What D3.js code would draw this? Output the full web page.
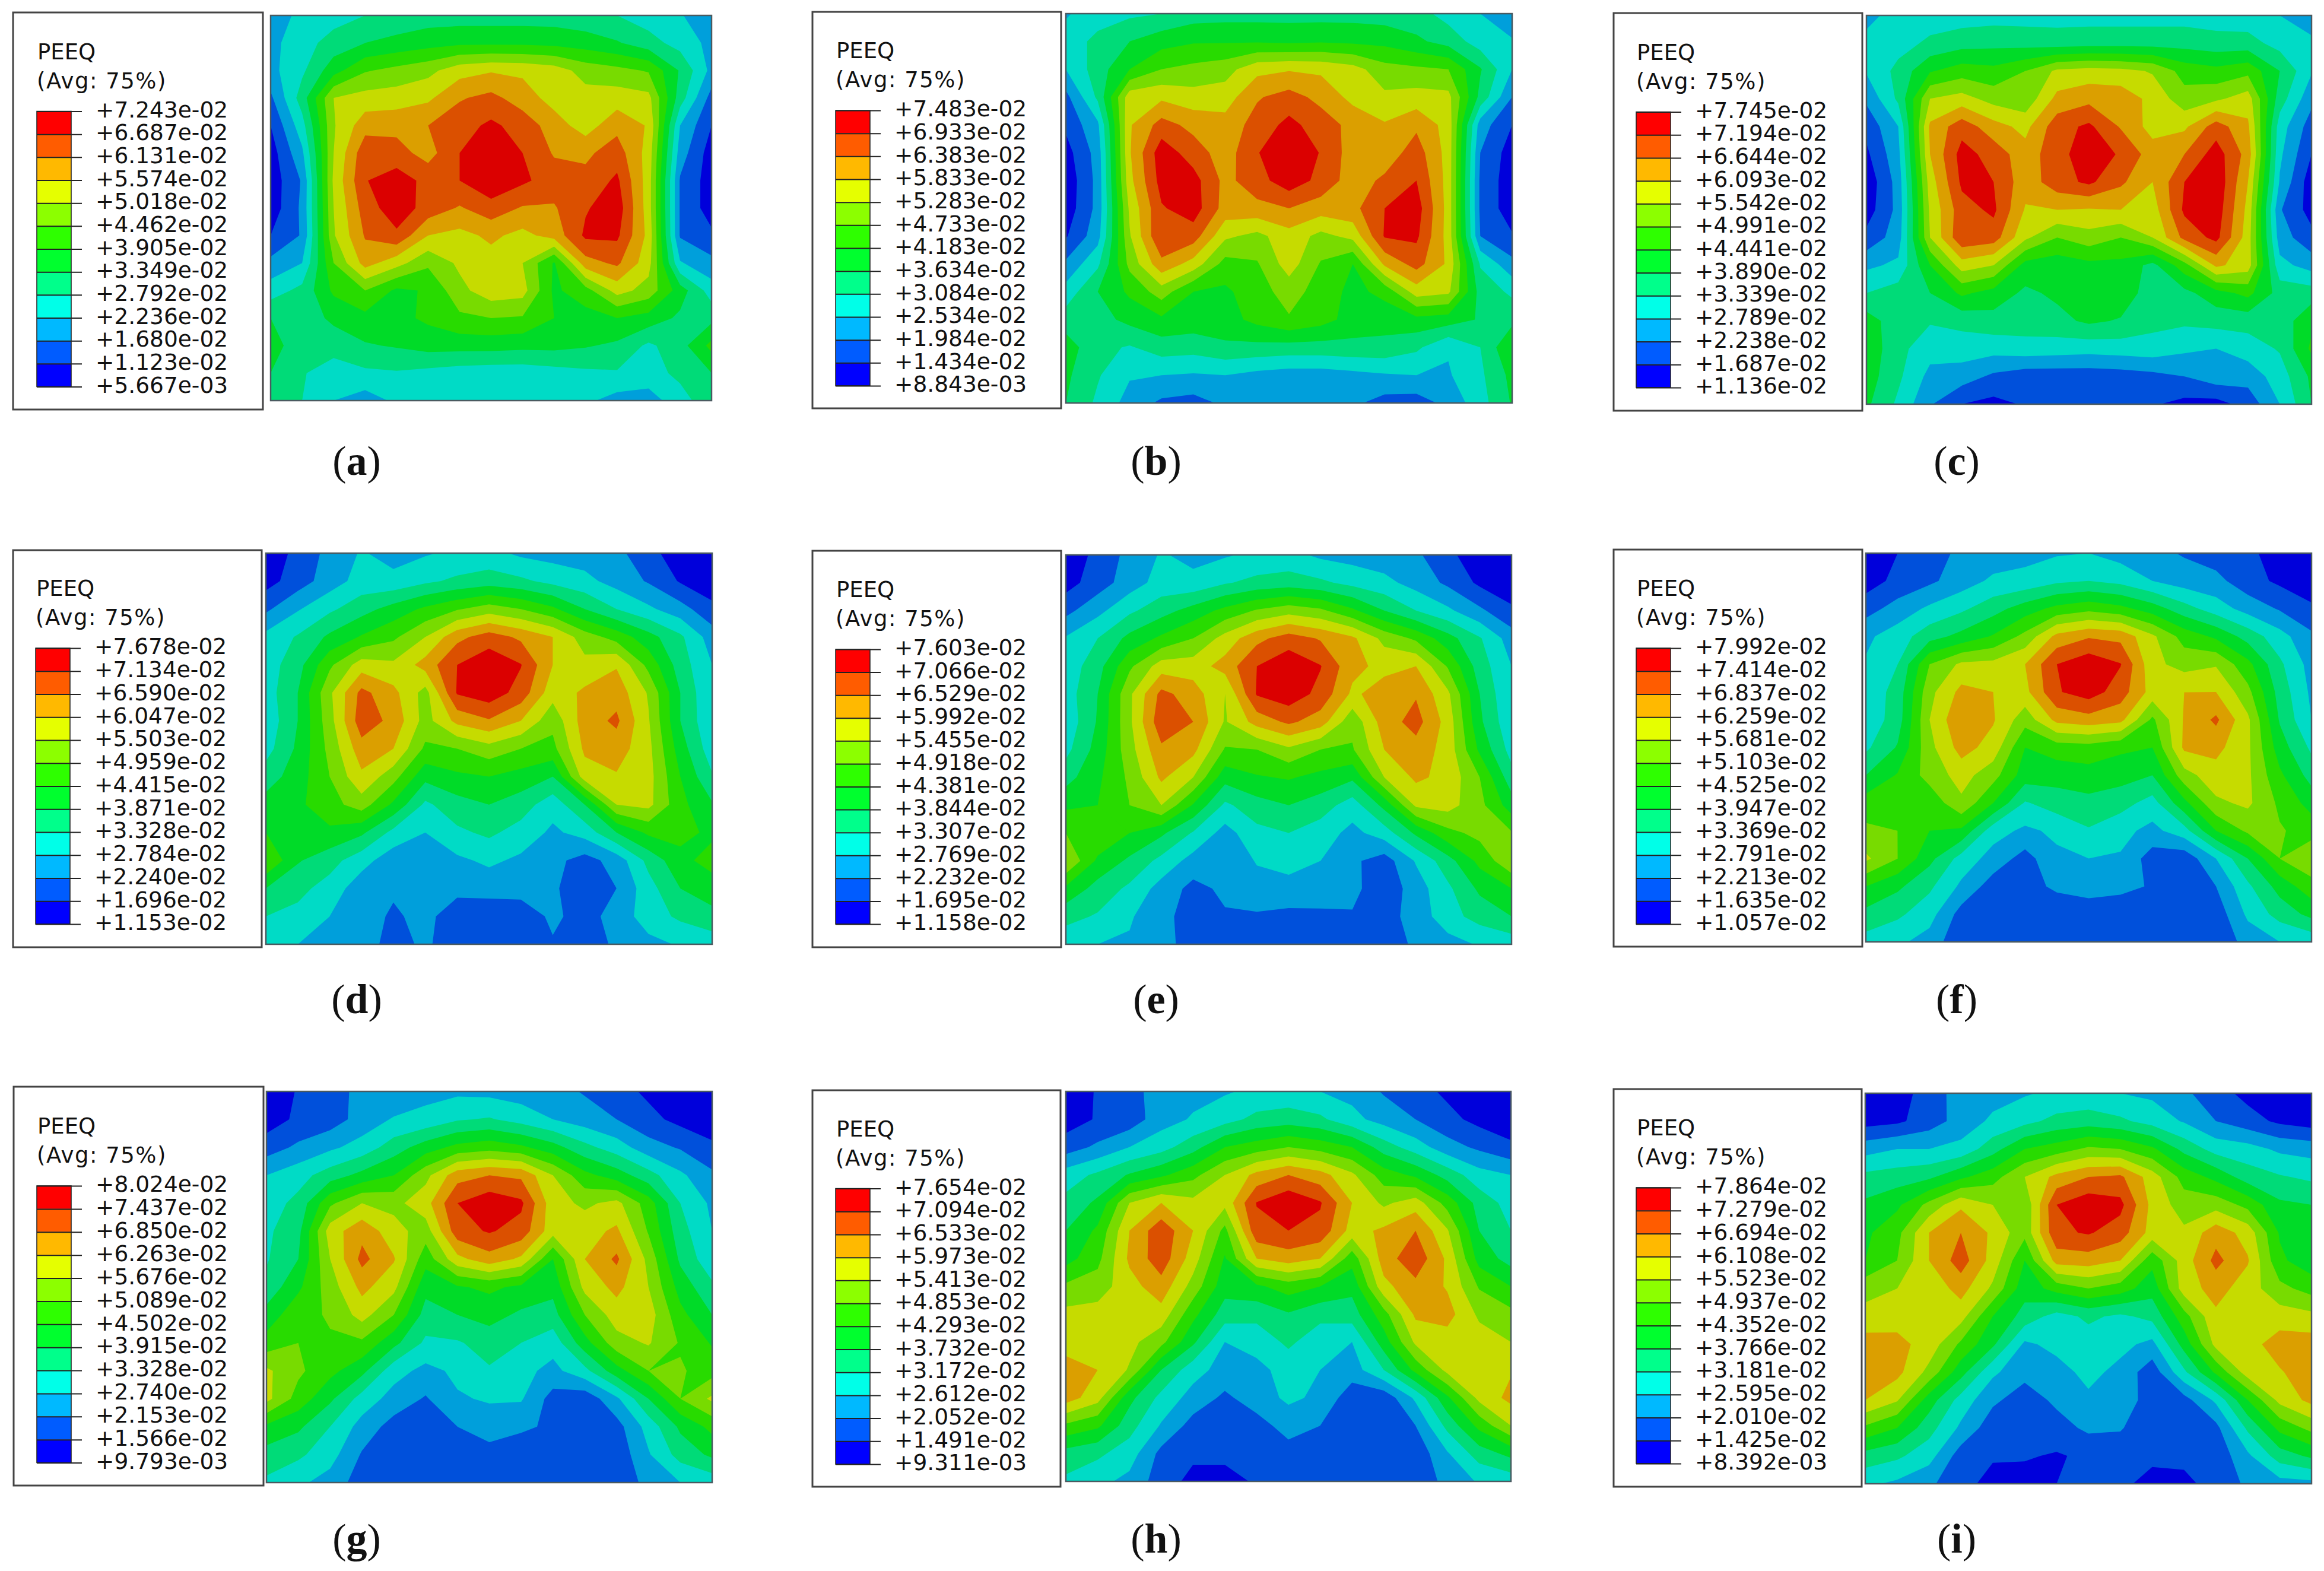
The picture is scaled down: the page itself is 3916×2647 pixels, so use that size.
<!DOCTYPE html>
<html>
<head>
<meta charset="utf-8">
<script src="https://d3js.org/d3.v7.min.js"></script>
<style>
body { margin: 0; background: #fff; }
</style>
</head>
<body>
<div id="chart"></div>
<script>
// legend tick labels of every panel, top to bottom
const ticksA = ["+7.243e-02","+6.687e-02","+6.131e-02","+5.574e-02","+5.018e-02","+4.462e-02","+3.905e-02","+3.349e-02","+2.792e-02","+2.236e-02","+1.680e-02","+1.123e-02","+5.667e-03"];
const ticksB = ["+7.483e-02","+6.933e-02","+6.383e-02","+5.833e-02","+5.283e-02","+4.733e-02","+4.183e-02","+3.634e-02","+3.084e-02","+2.534e-02","+1.984e-02","+1.434e-02","+8.843e-03"];
const ticksC = ["+7.745e-02","+7.194e-02","+6.644e-02","+6.093e-02","+5.542e-02","+4.991e-02","+4.441e-02","+3.890e-02","+3.339e-02","+2.789e-02","+2.238e-02","+1.687e-02","+1.136e-02"];
const ticksD = ["+7.678e-02","+7.134e-02","+6.590e-02","+6.047e-02","+5.503e-02","+4.959e-02","+4.415e-02","+3.871e-02","+3.328e-02","+2.784e-02","+2.240e-02","+1.696e-02","+1.153e-02"];
const ticksE = ["+7.603e-02","+7.066e-02","+6.529e-02","+5.992e-02","+5.455e-02","+4.918e-02","+4.381e-02","+3.844e-02","+3.307e-02","+2.769e-02","+2.232e-02","+1.695e-02","+1.158e-02"];
const ticksF = ["+7.992e-02","+7.414e-02","+6.837e-02","+6.259e-02","+5.681e-02","+5.103e-02","+4.525e-02","+3.947e-02","+3.369e-02","+2.791e-02","+2.213e-02","+1.635e-02","+1.057e-02"];
const ticksG = ["+8.024e-02","+7.437e-02","+6.850e-02","+6.263e-02","+5.676e-02","+5.089e-02","+4.502e-02","+3.915e-02","+3.328e-02","+2.740e-02","+2.153e-02","+1.566e-02","+9.793e-03"];
const ticksH = ["+7.654e-02","+7.094e-02","+6.533e-02","+5.973e-02","+5.413e-02","+4.853e-02","+4.293e-02","+3.732e-02","+3.172e-02","+2.612e-02","+2.052e-02","+1.491e-02","+9.311e-03"];
const ticksI = ["+7.864e-02","+7.279e-02","+6.694e-02","+6.108e-02","+5.523e-02","+4.937e-02","+4.352e-02","+3.766e-02","+3.181e-02","+2.595e-02","+2.010e-02","+1.425e-02","+8.392e-03"];

// field values, in legend steps (0 = bottom tick, 12 = top tick)
const gridA = [
[2.2,3.4,3.6,4.0,4.3,4.5,4.5,4.5,4.5,4.5,4.3,4.0,3.5,3.1,2.2],
[2.7,3.6,4.4,5.0,5.3,5.6,5.8,5.8,5.8,5.7,5.5,5.1,4.4,3.6,2.7],
[2.7,3.8,5.6,6.9,7.3,7.7,8.6,8.9,8.8,8.5,7.6,7.3,6.9,4.9,2.7],
[1.8,4.5,8.0,8.4,8.5,8.8,9.9,10.3,9.5,8.6,8.4,8.5,8.3,4.5,1.6],
[1.0,3.6,7.9,9.6,9.7,10.0,10.6,11.2,10.6,9.5,8.5,9.7,8.9,3.0,1.0],
[0.5,2.8,8.0,10.7,10.4,9.6,11.0,11.8,11.0,9.9,9.8,10.5,8.6,2.5,0.5],
[0.4,2.1,8.2,10.95,11.5,10.7,11.0,11.8,11.2,10.5,10.3,11.2,8.5,1.9,0.5],
[0.4,2.2,8.0,10.5,11.6,10.6,9.9,10.6,9.9,9.9,10.9,11.6,8.5,1.9,0.5],
[1.0,2.1,7.9,10.1,10.8,9.0,8.7,9.2,8.7,9.4,11.2,11.2,8.7,1.9,1.2],
[2.3,3.0,7.0,9.4,8.4,7.2,8.2,8.6,8.0,5.9,9.6,10.2,8.4,3.1,2.3],
[3.5,4.3,6.2,7.0,5.8,6.1,7.7,8.6,8.4,5.8,6.6,8.4,7.6,5.5,3.5],
[5.0,4.5,5.2,5.7,5.7,6.2,6.8,7.0,6.9,6.0,5.6,6.0,5.6,4.8,4.7],
[5.5,4.3,4.5,4.9,5.1,5.4,5.4,5.4,5.3,5.3,5.1,4.8,3.8,4.6,6.3],
[5.0,4.1,3.4,3.8,3.9,3.7,3.5,3.4,3.4,3.6,3.8,3.9,3.5,4.3,5.0],
[4.8,4.0,3.0,2.5,3.2,3.4,3.4,3.4,3.4,3.4,3.2,2.6,2.6,3.5,4.8]];
const gridB = [
[2.9,3.5,3.8,4.0,4.5,4.6,4.6,4.6,4.6,4.6,4.5,4.4,3.6,3.0,2.3],
[3.4,4.3,5.0,5.6,5.9,5.9,5.9,5.8,5.9,5.8,5.7,5.2,4.6,3.5,3.1],
[3.0,4.5,6.0,7.0,7.3,7.6,8.7,8.9,8.8,8.4,7.4,7.2,7.0,5.1,3.0],
[1.7,4.2,8.6,8.8,8.4,8.5,9.9,10.4,9.7,8.7,8.2,8.4,8.3,4.7,2.0],
[1.2,2.8,8.9,10.4,9.7,9.4,10.4,11.3,10.5,9.7,9.1,9.8,8.6,2.5,1.0],
[0.6,2.4,8.9,11.6,10.5,9.5,10.95,11.7,10.95,9.5,9.4,10.5,8.6,2.0,0.5],
[0.3,2.3,8.7,11.4,11.4,9.7,10.6,11.6,10.7,9.5,10.2,11.0,8.6,1.8,0.4],
[0.4,2.3,8.2,10.9,11.5,9.6,9.7,10.0,9.5,9.7,11.0,11.5,8.6,1.8,0.4],
[0.9,2.6,7.9,11.0,10.5,8.2,7.7,8.6,7.7,8.3,11.1,11.2,8.6,2.0,1.1],
[2.2,3.8,7.3,9.7,8.6,6.6,6.9,8.5,6.9,6.0,9.2,10.4,8.8,3.9,2.3],
[3.4,5.0,6.2,7.5,6.0,5.8,6.6,7.4,6.6,5.7,6.3,8.5,8.2,4.6,3.8],
[4.5,4.6,5.3,5.8,5.6,5.6,6.3,6.9,6.4,5.6,5.4,5.7,5.5,4.9,4.7],
[5.5,4.3,3.9,4.5,4.4,4.8,4.7,4.6,4.6,4.7,4.7,4.2,3.1,4.0,6.0],
[5.2,4.1,3.1,3.0,2.9,3.0,2.7,2.5,2.5,2.7,2.9,3.0,2.9,3.8,5.3],
[5.0,3.8,2.6,1.8,1.6,2.2,2.2,2.2,2.2,2.2,1.6,1.5,2.3,3.6,5.1]];
const gridC = [
[2.7,3.4,3.5,3.5,3.6,3.6,3.6,3.6,3.6,3.6,3.6,3.5,3.4,3.0,2.5],
[3.3,3.6,4.2,4.6,4.7,4.6,4.5,4.6,4.6,4.6,4.6,4.4,4.4,3.6,3.2],
[3.1,4.3,5.9,6.5,6.3,7.0,8.2,8.4,8.3,7.9,6.6,6.3,6.7,5.0,3.1],
[2.2,4.2,8.0,8.4,7.6,7.3,9.3,9.7,9.6,8.7,7.4,7.8,8.5,4.5,2.3],
[1.3,3.0,9.2,10.6,9.4,8.7,10.6,11.2,9.9,8.6,8.8,10.5,9.2,3.5,1.5],
[0.8,2.7,9.0,11.4,10.6,9.4,10.7,11.5,10.9,9.5,10.0,11.5,9.6,3.2,1.0],
[0.3,2.4,8.5,11.2,11.0,9.4,10.6,11.2,10.2,9.0,11.0,11.8,9.0,2.9,0.4],
[0.5,2.3,8.2,10.6,11.2,8.9,9.0,8.9,9.0,8.5,11.2,11.6,8.7,2.1,0.6],
[1.3,2.5,8.0,10.8,10.5,8.2,7.0,7.6,7.0,8.0,10.3,11.3,8.5,2.5,1.3],
[2.8,3.2,6.0,8.5,8.0,5.6,5.4,5.7,5.7,4.7,6.6,9.2,8.5,3.3,2.6],
[4.0,4.5,5.0,6.2,5.6,4.8,5.2,6.0,5.7,4.4,4.7,5.6,6.3,4.6,4.5],
[5.5,4.4,4.1,4.3,4.6,4.5,4.7,5.2,4.9,4.3,4.2,4.4,4.4,4.4,5.8],
[5.7,4.3,3.4,3.5,3.4,3.6,3.5,3.4,3.5,3.6,3.2,3.0,3.5,4.1,6.2],
[5.5,4.2,2.7,2.5,1.8,1.4,1.4,1.4,1.5,1.7,2.0,2.6,2.4,3.5,5.2],
[5.2,3.8,2.1,1.0,0.7,1.1,1.1,1.1,1.1,1.1,0.7,0.6,1.4,3.0,5.0]];
const gridD = [
[0.3,1.3,2.3,3.1,2.6,2.9,3.2,3.3,2.8,2.6,2.5,2.3,1.3,0.5,0.3],
[0.6,1.5,2.5,3.4,3.3,3.8,4.2,4.5,4.2,3.7,3.3,2.6,1.9,0.9,0.3],
[1.8,2.9,3.8,4.6,5.4,6.2,6.9,7.5,7.0,6.2,5.0,4.0,3.2,2.4,1.3],
[3.3,4.1,5.2,6.1,6.8,8.0,9.7,10.5,9.8,9.0,7.5,6.6,5.4,4.2,2.5],
[3.5,4.6,6.8,8.5,8.2,9.4,11.0,11.7,11.05,9.0,8.3,8.9,6.7,4.5,3.0],
[3.5,5.0,7.8,10.3,9.3,7.6,11.1,11.6,10.6,8.4,9.2,9.6,7.9,5.0,3.0],
[3.3,5.0,7.6,10.6,9.7,7.6,9.3,9.9,9.0,7.3,9.5,10.2,8.1,5.0,3.1],
[3.6,5.2,7.3,9.6,9.0,6.8,7.0,7.6,7.0,6.7,9.2,9.5,8.3,5.5,3.4],
[4.5,5.5,7.0,8.8,7.4,5.3,5.8,6.0,5.6,5.0,8.5,8.9,8.4,6.0,4.1],
[5.4,5.8,6.6,7.5,5.8,3.8,4.6,5.0,4.5,3.4,5.0,8.0,8.3,6.3,5.1],
[6.0,5.8,5.8,5.2,3.7,3.0,3.8,4.2,3.6,2.8,3.4,5.0,6.2,6.3,5.8],
[7.0,5.1,4.4,3.4,2.4,2.3,2.8,3.2,2.8,2.3,1.6,2.4,4.3,5.7,6.4],
[5.0,4.3,3.6,2.4,2.1,2.2,2.2,2.4,2.4,2.2,1.2,2.0,3.6,5.0,5.5],
[4.0,3.7,3.0,2.3,1.9,2.2,1.6,1.3,1.4,2.2,1.6,2.4,3.5,4.2,4.7],
[3.3,3.0,2.9,2.5,1.6,2.2,1.3,1.4,1.7,1.9,1.4,2.2,2.7,3.1,3.4]];
const gridE = [
[0.3,1.3,2.3,3.1,2.7,2.9,3.2,3.3,2.8,2.6,2.4,2.2,1.2,0.5,0.3],
[0.6,1.5,2.5,3.4,3.3,3.9,4.3,4.5,4.2,3.7,3.3,2.6,1.8,0.8,0.3],
[1.7,2.7,3.8,4.6,5.4,6.3,7.1,7.6,7.2,6.2,5.0,4.0,3.2,2.2,1.2],
[3.1,4.0,5.3,6.2,7.0,8.4,9.7,10.5,9.9,9.2,7.7,6.8,5.4,4.1,2.5],
[3.4,4.6,6.8,8.5,8.5,9.4,11.0,11.7,11.05,9.3,8.7,9.0,6.9,4.5,3.0],
[3.5,5.0,7.8,10.3,9.5,8.0,11.1,11.6,10.7,8.8,9.5,9.9,8.2,5.0,3.0],
[3.3,5.1,7.8,10.7,10.0,7.9,9.4,10.2,9.5,7.3,9.5,10.4,8.6,5.2,3.2],
[3.7,5.4,7.6,9.8,9.3,6.9,7.0,7.8,7.0,6.9,9.0,9.6,8.6,5.8,3.6],
[4.6,5.8,7.2,9.2,8.0,5.4,5.9,6.1,5.7,5.2,8.0,9.2,8.7,7.0,4.4],
[5.8,6.0,7.0,8.0,5.9,3.8,4.6,5.0,4.5,3.5,5.3,8.2,8.4,7.3,5.5],
[7.0,6.9,6.0,5.2,3.9,2.6,3.7,4.0,3.5,2.7,3.5,5.2,6.7,7.3,7.1],
[8.0,5.8,4.8,3.7,2.6,2.0,3.1,3.3,3.0,2.2,1.5,3.1,4.6,6.3,7.8],
[5.8,4.6,3.8,2.6,1.7,2.2,2.5,2.7,2.5,2.3,1.3,2.5,3.8,5.2,6.0],
[4.3,3.9,3.1,2.4,1.4,1.9,1.9,1.7,1.8,1.9,1.6,2.4,3.6,4.4,5.0],
[3.4,3.0,2.9,2.5,1.4,1.4,1.4,1.4,1.4,1.4,1.4,2.2,2.6,3.1,3.4]];
const gridF = [
[0.3,1.0,1.4,2.3,2.4,2.7,2.9,3.0,2.6,2.3,1.9,1.5,1.3,0.4,0.3],
[0.5,1.3,1.8,2.5,3.2,3.3,3.8,4.0,3.7,3.0,2.5,2.3,1.4,0.8,0.3],
[1.6,2.4,3.2,3.8,4.6,5.5,6.3,6.7,6.3,5.5,4.4,3.5,2.6,1.9,1.2],
[2.8,3.5,4.6,5.3,6.1,7.3,9.3,9.9,9.7,8.2,6.6,5.8,4.6,3.4,2.2],
[3.1,4.0,7.0,8.2,8.3,9.0,11.0,11.7,11.05,8.3,7.6,7.9,6.3,4.2,2.6],
[3.3,4.4,7.7,9.3,9.0,8.7,10.9,11.5,10.5,8.6,9.0,9.0,7.3,4.6,2.8],
[3.3,4.5,8.0,9.9,9.1,7.4,9.3,9.6,9.3,6.8,9.1,10.2,8.2,4.9,3.0],
[3.8,5.1,7.7,9.4,8.6,6.0,6.5,6.6,6.2,6.0,9.2,9.3,8.2,5.5,3.8],
[5.0,6.1,7.4,8.4,7.4,5.5,5.4,5.6,5.4,5.0,7.6,8.6,8.2,6.2,4.6],
[6.5,7.0,6.3,7.8,6.0,3.9,4.5,4.7,4.4,3.6,5.7,7.8,8.2,6.8,5.6],
[7.2,7.0,6.0,5.8,3.4,2.8,3.2,3.9,3.3,2.7,3.6,6.0,7.2,7.1,6.6],
[8.2,7.0,5.3,3.6,2.6,1.6,2.8,3.0,2.9,1.5,1.3,3.0,5.0,7.0,7.8],
[6.0,5.2,4.2,2.8,1.5,1.6,2.2,2.6,2.3,1.9,1.3,2.0,3.8,5.4,6.6],
[4.7,4.2,3.4,1.6,1.3,1.3,1.3,1.2,1.3,1.3,1.3,1.4,3.2,4.4,5.3],
[3.6,3.2,2.6,1.2,1.1,1.1,1.1,1.1,1.1,1.1,1.1,1.2,2.4,3.0,3.3]];
const gridG = [
[0.2,1.1,1.4,2.4,2.1,2.7,2.8,2.7,2.5,2.4,1.9,1.4,0.8,0.3,0.2],
[0.5,1.2,1.5,2.4,3.1,3.3,3.9,4.1,3.6,3.0,2.5,2.0,1.3,0.7,0.4],
[1.5,2.2,2.8,3.4,4.5,5.5,6.3,6.6,6.2,5.4,4.3,3.5,2.4,1.9,1.2],
[3.0,3.6,4.5,5.3,6.0,7.7,9.6,10.0,9.8,8.0,6.3,5.5,4.4,3.2,2.2],
[3.5,4.3,6.8,8.0,7.7,8.6,11.0,11.7,11.2,8.4,7.8,8.3,6.5,4.0,2.8],
[3.8,4.7,8.5,9.7,8.4,7.5,10.6,11.1,10.6,8.4,8.6,9.2,6.9,4.4,3.0],
[3.9,5.0,8.0,10.3,9.1,6.4,8.7,9.6,8.8,6.0,9.0,10.2,7.7,4.8,3.3],
[4.3,5.8,7.5,9.3,8.3,5.3,5.9,6.2,5.8,5.3,8.3,9.3,8.0,5.6,4.2],
[5.4,6.7,7.1,8.4,7.0,4.6,5.0,5.4,4.8,4.6,7.0,8.5,8.5,6.3,5.0],
[6.4,7.0,6.9,6.8,5.3,3.8,3.9,4.4,4.0,3.4,5.6,7.6,8.1,6.9,5.9],
[8.2,7.2,6.3,5.3,3.4,2.7,3.2,3.9,3.3,2.7,3.7,5.6,7.0,7.1,6.6],
[8.3,6.6,5.2,3.6,2.6,1.9,2.9,3.1,3.1,1.6,1.3,2.8,5.0,7.0,8.2],
[5.8,5.2,4.0,2.6,1.6,1.3,2.0,2.5,2.2,1.8,1.2,1.6,3.4,5.2,6.3],
[4.6,4.2,3.4,1.9,1.2,1.2,1.3,1.6,1.3,1.2,1.2,1.3,2.9,4.4,5.2],
[3.8,3.2,2.6,1.5,1.1,1.1,1.1,1.1,1.1,1.1,1.1,1.1,2.4,3.0,3.4]];
const gridH = [
[0.3,1.1,1.6,2.5,2.7,2.9,3.2,3.3,3.0,2.7,1.9,1.4,0.8,0.3,0.2],
[0.5,1.1,1.4,2.6,3.1,3.6,4.3,4.5,4.2,3.3,2.6,2.0,1.3,0.7,0.4],
[1.5,2.2,3.0,3.6,4.6,6.0,6.5,7.0,6.6,6.0,4.5,3.5,2.4,1.8,1.2],
[3.5,4.2,5.1,5.8,6.7,8.0,9.3,10.0,9.4,8.2,6.5,5.8,4.6,3.4,3.0],
[4.3,5.2,8.0,9.0,8.3,8.3,11.05,11.8,11.1,9.0,7.8,8.5,6.6,4.6,3.6],
[5.0,6.2,9.0,10.7,9.0,6.7,10.7,11.0,10.7,8.6,9.2,10.0,8.1,5.0,4.0],
[5.6,6.7,9.2,10.6,8.5,5.9,9.0,9.5,9.0,6.4,9.5,10.7,8.8,5.6,4.6],
[7.2,7.5,8.6,9.6,7.6,5.4,5.8,6.5,6.0,5.3,8.7,9.7,8.9,6.9,6.0],
[8.3,8.4,8.5,8.6,6.3,4.5,4.3,4.9,4.3,4.5,6.6,9.2,9.4,7.8,7.3],
[8.6,8.5,8.3,7.3,5.2,3.0,3.4,4.2,3.4,3.0,5.5,8.2,8.5,8.5,8.0],
[9.4,9.0,7.9,5.0,3.4,2.6,2.7,3.4,3.0,2.5,4.0,6.3,8.3,8.6,8.9],
[9.5,8.4,5.3,3.7,2.6,1.8,2.5,3.2,2.8,1.4,1.3,3.2,5.8,8.3,9.3],
[6.8,6.2,4.4,2.9,1.6,1.4,1.6,2.4,2.0,1.2,1.2,2.0,4.3,6.3,8.0],
[4.6,4.2,3.5,1.7,1.2,1.2,1.3,1.6,1.3,1.2,1.2,1.3,2.9,4.5,5.3],
[3.8,3.3,2.7,1.5,0.7,0.7,1.1,1.1,1.1,1.1,1.1,1.1,2.4,3.1,3.4]];
const gridI = [
[0.3,0.6,1.4,2.5,2.6,2.9,3.2,3.3,3.0,2.8,2.2,1.4,0.7,0.4,0.3],
[0.6,0.8,1.5,2.4,3.2,3.7,4.3,4.5,4.2,3.6,2.9,2.0,1.4,0.8,0.5],
[2.6,3.0,3.0,3.3,4.6,6.0,6.5,7.2,7.0,6.2,4.7,3.6,3.4,2.8,2.6],
[4.3,4.5,4.8,5.8,6.6,8.0,9.3,10.0,10.2,8.5,6.6,5.7,4.5,4.1,3.8],
[5.2,5.8,7.3,8.8,8.0,7.2,11.0,11.7,11.3,8.7,7.5,7.6,6.7,5.2,5.0],
[5.8,6.7,9.0,10.0,8.8,7.3,10.8,11.1,10.5,8.6,8.2,9.6,8.6,5.9,5.0],
[6.0,7.0,9.0,10.5,8.6,6.0,9.4,9.5,9.0,6.3,8.5,10.3,9.1,6.2,5.4],
[7.7,8.0,8.3,9.4,7.8,5.4,6.4,7.0,6.5,5.4,8.5,9.4,8.5,7.3,6.6],
[8.3,8.6,8.7,8.4,6.0,4.6,3.6,4.2,3.8,4.3,6.6,8.8,9.0,8.5,8.3],
[9.5,9.3,8.6,6.8,5.2,2.8,3.3,3.5,3.3,2.7,5.4,8.3,8.6,9.5,9.5],
[9.6,9.3,7.7,5.4,3.2,2.3,2.6,3.3,2.7,1.4,3.8,6.2,8.5,8.9,9.6],
[9.0,8.1,5.5,3.6,2.2,1.5,2.2,2.8,3.0,1.2,1.6,3.2,6.0,8.3,9.3],
[6.8,6.0,4.4,2.8,1.4,1.3,1.6,2.2,2.1,1.2,1.2,1.7,4.2,6.3,7.3],
[4.6,4.2,3.4,1.5,1.1,1.1,0.9,1.2,1.3,1.2,1.2,1.3,2.8,4.5,5.2],
[3.2,2.8,2.2,1.3,0.7,0.6,1.0,1.2,1.2,0.7,0.8,1.3,2.2,2.6,2.7]];

const captions = ["a","b","c","d","e","f","g","h","i"];
const allTicks = [ticksA,ticksB,ticksC,ticksD,ticksE,ticksF,ticksG,ticksH,ticksI];
const allGrids = [gridA,gridB,gridC,gridD,gridE,gridF,gridG,gridH,gridI];

// bands bottom to top: legend swatch colour and the darker shaded colour of the part
const legendColors = ["#0000ff","#005cff","#00b9ff","#00ffe8","#00ff8b","#00ff2e","#2eff00","#8cff00","#e5ff00","#ffb900","#ff5c00","#ff0000"];
const plotColors = ["#0000db","#0050db","#009fdb","#00dbc6","#00db78","#00db28","#28db00","#78db00","#c6db00","#db9f00","#db5000","#db0000"];

// page layout, box = legend frame, bar = colour bar, plot = contour area
const layout = [
    {box:[22,21,443,690],    barX:62,   bar:[187.5,651.5], plot:[456,26,1199,675],    cap:[601,800]},
    {box:[1369,20,1788,688], barX:1408, bar:[186,650],     plot:[1796,23,2548,679],   cap:[1948,800]},
    {box:[2719,22,3138,692], barX:2757, bar:[188.5,653],   plot:[3145,26,3895,681],   cap:[3297,800]},
    {box:[22,927,441,1596],  barX:60,   bar:[1092,1557],   plot:[448,932,1200,1591],  cap:[601,1707]},
    {box:[1369,928,1788,1596],barX:1408,bar:[1094,1557],   plot:[1796,935,2547,1591], cap:[1948,1707]},
    {box:[2719,926,3138,1595],barX:2757,bar:[1092,1557],   plot:[3144,932,3895,1587], cap:[3297,1707]},
    {box:[23,1831,444,2503], barX:62,   bar:[1998,2464.5], plot:[449,1839,1200,2498], cap:[601,2616]},
    {box:[1369,1837,1787,2505],barX:1408,bar:[2002.5,2467],plot:[1796,1839,2546,2496],cap:[1948,2616]},
    {box:[2719,1835,3137,2505],barX:2757,bar:[2001,2466],  plot:[3143,1842,3895,2500],cap:[3297,2616]}
];

const svg = d3.select("#chart").append("svg")
    .attr("width", 3916)
    .attr("height", 2647)
    .style("display", "block")
    .style("background", "#fff");

const labelFont = "'DejaVu Sans', sans-serif";

function drawPlot(g, grid, ticks, rect, id) {
    const levels = ticks.map(Number).reverse();
    const rows = grid.length, cols = grid[0].length;
    const toValue = d3.scaleLinear().domain([0, 12]).range([levels[0], levels[12]]);

    // pad with one row/col of edge values so the bands run out to the border
    const flat = [];
    for (let i = -1; i <= rows; i++) {
        for (let j = -1; j <= cols; j++) {
            const r = grid[Math.max(0, Math.min(rows - 1, i))];
            flat.push(toValue(r[Math.max(0, Math.min(cols - 1, j))]));
        }
    }

    const x = d3.scaleLinear().domain([1.5, cols + 0.5]).range([rect[0], rect[2]]);
    const y = d3.scaleLinear().domain([1.5, rows + 0.5]).range([rect[1], rect[3]]);
    const path = d3.geoPath(d3.geoTransform({
        point: function(px, py) { this.stream.point(x(px), y(py)); }
    }));

    const contours = d3.contours().size([cols + 2, rows + 2]).thresholds(levels.slice(1, 12))(flat);

    g.append("clipPath").attr("id", "clip" + id)
        .append("rect")
        .attr("x", rect[0]).attr("y", rect[1])
        .attr("width", rect[2] - rect[0]).attr("height", rect[3] - rect[1]);

    const field = g.append("g").attr("clip-path", "url(#clip" + id + ")");
    field.append("rect")
        .attr("x", rect[0]).attr("y", rect[1])
        .attr("width", rect[2] - rect[0]).attr("height", rect[3] - rect[1])
        .attr("fill", plotColors[0]);
    field.selectAll("path")
        .data(contours)
        .join("path")
        .attr("d", path)
        .attr("fill", (d, i) => plotColors[i + 1]);

    g.append("rect")
        .attr("x", rect[0]).attr("y", rect[1])
        .attr("width", rect[2] - rect[0]).attr("height", rect[3] - rect[1])
        .attr("fill", "none")
        .attr("stroke", "#4a5a60")
        .attr("stroke-width", 2.5);
}

function drawLegend(g, ticks, d) {
    const b = d.box;
    g.append("rect")
        .attr("x", b[0]).attr("y", b[1])
        .attr("width", b[2] - b[0]).attr("height", b[3] - b[1])
        .attr("fill", "#fff")
        .attr("stroke", "#444")
        .attr("stroke-width", 3);

    g.append("text").attr("x", d.barX + 1).attr("y", d.bar[0] - 88)
        .attr("font-family", labelFont).attr("font-size", 37).attr("fill", "#111")
        .text("PEEQ");
    g.append("text").attr("x", d.barX).attr("y", d.bar[0] - 39)
        .attr("font-family", labelFont).attr("font-size", 37).attr("letter-spacing", 1.5).attr("fill", "#111")
        .text("(Avg: 75%)");

    const pos = d3.scalePoint().domain(ticks).range(d.bar);
    const barW = 58;
    const step = pos.step();

    g.selectAll(".swatch")
        .data(ticks.slice(0, 12))
        .join("rect")
        .attr("class", "swatch")
        .attr("x", d.barX)
        .attr("y", t => pos(t))
        .attr("width", barW)
        .attr("height", step)
        .attr("fill", (t, i) => legendColors[11 - i]);

    g.append("rect")
        .attr("x", d.barX).attr("y", d.bar[0])
        .attr("width", barW).attr("height", d.bar[1] - d.bar[0])
        .attr("fill", "none").attr("stroke", "#222").attr("stroke-width", 1.5);

    const axis = g.append("g")
        .attr("transform", "translate(" + d.barX + ",0)")
        .call(d3.axisRight(pos).tickSize(76).tickPadding(23));
    axis.select(".domain").remove();
    axis.selectAll("line").attr("stroke", "#222").attr("stroke-width", 2);
    axis.selectAll("text")
        .attr("font-family", labelFont)
        .attr("font-size", 37.5)
        .attr("fill", "#111")
        .attr("dy", "0.26em");
}

layout.forEach(function(d, i) {
    const g = svg.append("g").attr("class", "panel");
    drawLegend(g, allTicks[i], d);
    drawPlot(g, allGrids[i], allTicks[i], d.plot, i);

    const cap = g.append("text")
        .attr("x", d.cap[0]).attr("y", d.cap[1])
        .attr("text-anchor", "middle")
        .attr("font-family", "'Liberation Serif', serif")
        .attr("font-size", 70)
        .attr("fill", "#111");
    cap.append("tspan").text("(");
    cap.append("tspan").attr("font-weight", "bold").text(captions[i]);
    cap.append("tspan").text(")");
});
</script>
</body>
</html>
